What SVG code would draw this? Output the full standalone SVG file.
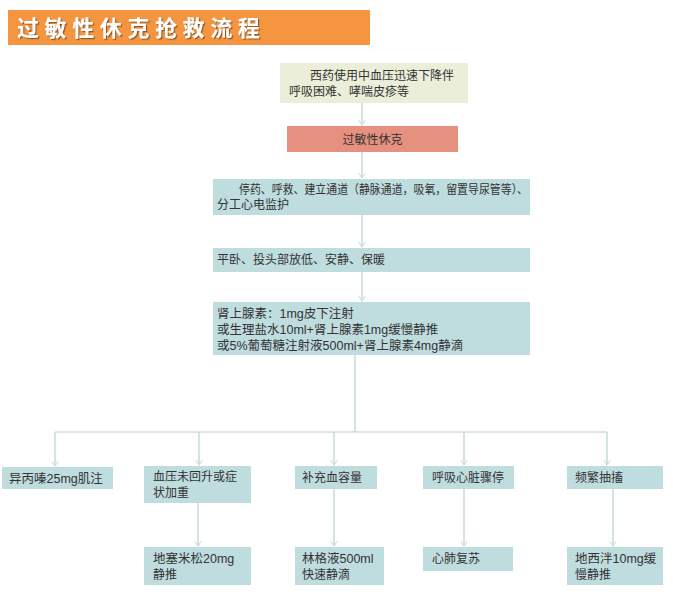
<svg xmlns="http://www.w3.org/2000/svg" width="673" height="592" viewBox="0 0 673 592">
<style>
.t{font-family:"Liberation Sans","Noto Sans CJK SC",sans-serif;font-size:12px;fill:#333}
.b{fill:#BFDCDF}
.c{fill:none;stroke:#CCDCE0;stroke-width:1.6}
.title{font-family:"Noto Sans CJK SC",sans-serif;font-size:22px;font-weight:bold;fill:#fff;letter-spacing:5.6px}
</style>
<defs>
<marker id="av" viewBox="0 0 10 10" refX="9" refY="5" markerWidth="8" markerHeight="8" markerUnits="userSpaceOnUse" orient="auto">
<path d="M3,1 L9,5 L3,9" fill="none" stroke="#CCDCE0" stroke-width="1.4"/>
</marker>
<filter id="sh" x="-5%" y="-20%" width="110%" height="150%">
<feDropShadow dx="1.2" dy="1.2" stdDeviation="0.6" flood-color="#6b3a10" flood-opacity="0.7"/>
</filter>
</defs>
<rect width="673" height="592" fill="#fff"/>
<g id="title">
<rect x="8" y="10" width="362" height="35" fill="#F5953F"/>
<text x="17" y="36" class="title" filter="url(#sh)">过敏性休克抢救流程</text>
</g>
<g id="connectors">
<line class="c" x1="362" y1="103" x2="362" y2="125" marker-end="url(#av)"/>
<line class="c" x1="362" y1="152" x2="362" y2="178" marker-end="url(#av)"/>
<line class="c" x1="362" y1="215" x2="362" y2="247" marker-end="url(#av)"/>
<line class="c" x1="362" y1="272" x2="362" y2="301" marker-end="url(#av)"/>
<line class="c" x1="355" y1="355" x2="355" y2="432"/>
<line class="c" x1="55" y1="432" x2="607" y2="432"/>
<line class="c" x1="55" y1="432" x2="55" y2="466" marker-end="url(#av)"/>
<line class="c" x1="199" y1="432" x2="199" y2="465" marker-end="url(#av)"/>
<line class="c" x1="334" y1="432" x2="334" y2="465" marker-end="url(#av)"/>
<line class="c" x1="464" y1="432" x2="464" y2="465" marker-end="url(#av)"/>
<line class="c" x1="607" y1="432" x2="607" y2="465" marker-end="url(#av)"/>
<line class="c" x1="198" y1="503" x2="198" y2="546" marker-end="url(#av)"/>
<line class="c" x1="334" y1="489" x2="334" y2="546" marker-end="url(#av)"/>
<line class="c" x1="464" y1="489" x2="464" y2="546" marker-end="url(#av)"/>
<line class="c" x1="613" y1="489" x2="613" y2="546" marker-end="url(#av)"/>
</g>
<g id="n1">
<rect x="280" y="63" width="188" height="40" fill="#EBEFD9"/>
<text class="t" x="310" y="80">西药使用中血压迅速下降伴</text>
<text class="t" x="289" y="96">呼吸困难、哮喘皮疹等</text>
</g>
<g id="n2">
<rect x="287" y="126" width="171" height="26" fill="#E6907F"/>
<text class="t" x="372.5" y="144" text-anchor="middle">过敏性休克</text>
</g>
<g id="n3">
<rect x="213" y="179" width="317" height="36" class="b"/>
<text class="t" x="239" y="194" textLength="289" lengthAdjust="spacingAndGlyphs">停药、呼救、建立通道（静脉通道，吸氧，留置导尿管等）、</text>
<text class="t" x="217" y="209">分工心电监护</text>
</g>
<g id="n4">
<rect x="213" y="248" width="317" height="24" class="b"/>
<text class="t" x="217" y="264">平卧、投头部放低、安静、保暖</text>
</g>
<g id="n5">
<rect x="213" y="302" width="317" height="53" class="b"/>
<text class="t" x="217" y="318" style="font-size:12.5px">肾上腺素：1mg皮下注射</text>
<text class="t" x="217" y="334" style="font-size:12.5px">或生理盐水10ml+肾上腺素1mg缓慢静推</text>
<text class="t" x="217" y="350" style="font-size:12.5px">或5%葡萄糖注射液500ml+肾上腺素4mg静滴</text>
</g>
<g id="a1">
<rect x="2" y="467" width="111" height="22" class="b"/>
<text class="t" x="9" y="483" style="font-size:12.5px">异丙嗪25mg肌注</text>
</g>
<g id="b1">
<rect x="144" y="466" width="107" height="37" class="b"/>
<text class="t" x="153" y="481">血压未回升或症</text>
<text class="t" x="153" y="497">状加重</text>
</g>
<g id="b2">
<rect x="144" y="547" width="107" height="38" class="b"/>
<text class="t" x="153" y="563" style="font-size:12.5px">地塞米松20mg</text>
<text class="t" x="153" y="579">静推</text>
</g>
<g id="c1">
<rect x="295" y="466" width="82" height="23" class="b"/>
<text class="t" x="302" y="482">补充血容量</text>
</g>
<g id="c2">
<rect x="295" y="547" width="89" height="38" class="b"/>
<text class="t" x="302" y="563" style="font-size:12.5px">林格液500ml</text>
<text class="t" x="302" y="579">快速静滴</text>
</g>
<g id="d1">
<rect x="423" y="466" width="91" height="23" class="b"/>
<text class="t" x="432" y="482">呼吸心脏骤停</text>
</g>
<g id="d2">
<rect x="423" y="547" width="90" height="24" class="b"/>
<text class="t" x="432" y="563">心肺复苏</text>
</g>
<g id="e1">
<rect x="567" y="466" width="96" height="23" class="b"/>
<text class="t" x="575" y="482">频繁抽搐</text>
</g>
<g id="e2">
<rect x="567" y="547" width="96" height="38" class="b"/>
<text class="t" x="575" y="563" style="font-size:12.5px">地西泮10mg缓</text>
<text class="t" x="575" y="579">慢静推</text>
</g>
</svg>
